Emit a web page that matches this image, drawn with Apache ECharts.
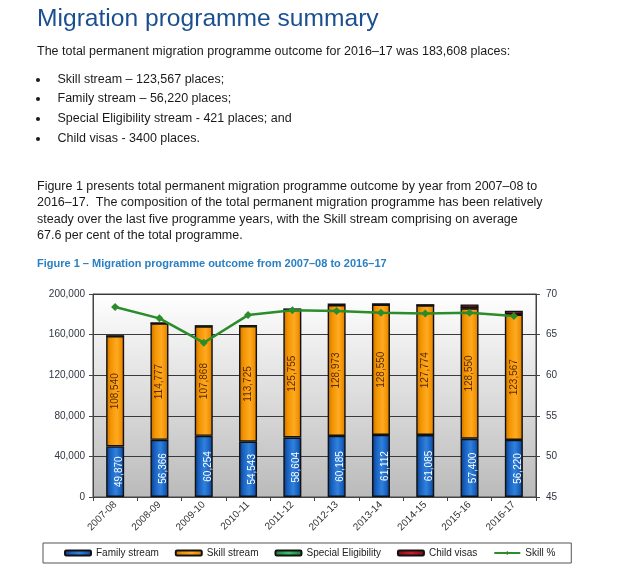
<!DOCTYPE html>
<html>
<head>
<meta charset="utf-8">
<script src="https://cdn.jsdelivr.net/npm/echarts@6/dist/echarts.min.js"></script>
<style>
  html, body { margin: 0; padding: 0; background: #ffffff; width: 620px; height: 575px; overflow: hidden; }
  body { position: relative; font-family: "Liberation Sans", Arial, sans-serif; color: #1a1a1a; }
  #chart { position: absolute; left: 0; top: 0; width: 620px; height: 575px; }
  .t { position: absolute; white-space: nowrap; z-index: 2; }
  .title { left: 37px; top: 4px; font-size: 24.6px; line-height: 28px; color: #1b4f91; }
  .p { left: 37px; font-size: 12.5px; line-height: 16px; }
  .b { left: 57.5px; font-size: 12.5px; line-height: 16px; }
  .dot { position: absolute; left: 36px; top: 7px; width: 4px; height: 4px; border-radius: 2px; background: #1a1a1a; }
  .dotwrap { position: absolute; left: 0; width: 60px; height: 16px; z-index: 2; }
  .cap { left: 37px; top: 257px; font-size: 11px; line-height: 13px; font-weight: bold; color: #2a80c2; }
</style>
</head>
<body>
<div id="chart"></div>
<div class="t title">Migration programme summary</div>
<div class="t p" style="top:42.7px">The total permanent migration programme outcome for 2016–17 was 183,608 places:</div>
<div class="dotwrap" style="top:71px"><div class="dot"></div></div>
<div class="t b" style="top:71px">Skill stream – 123,567 places;</div>
<div class="dotwrap" style="top:90.4px"><div class="dot"></div></div>
<div class="t b" style="top:90.4px">Family stream – 56,220 places;</div>
<div class="dotwrap" style="top:110.4px"><div class="dot"></div></div>
<div class="t b" style="top:110.4px">Special Eligibility stream - 421 places; and</div>
<div class="dotwrap" style="top:129.7px"><div class="dot"></div></div>
<div class="t b" style="top:129.7px">Child visas - 3400 places.</div>
<div class="t p" style="top:177.7px">Figure 1 presents total permanent migration programme outcome by year from 2007–08 to</div>
<div class="t p" style="top:194.4px">2016–17.&nbsp; The composition of the total permanent migration programme has been relatively</div>
<div class="t p" style="top:211px">steady over the last five programme years, with the Skill stream comprising on average</div>
<div class="t p" style="top:227px">67.6 per cent of the total programme.</div>
<div class="t cap">Figure 1 – Migration programme outcome from 2007–08 to 2016–17</div>
<script>
var categories = ['2007-08','2008-09','2009-10','2010-11','2011-12','2012-13','2013-14','2014-15','2015-16','2016-17'];
var familyStream = [49870, 56366, 60254, 54543, 58604, 60185, 61112, 61085, 57400, 56220];
var skillStream = [108540, 114777, 107868, 113725, 125755, 128973, 128550, 127774, 128550, 123567];
var specialEligibility = [220, 175, 501, 417, 639, 842, 338, 238, 308, 421];
var childVisas = [0, 0, 0, 0, 0, 0, 0, 0, 3512, 3400];
var skillPct = [68.4, 67.0, 64.0, 67.4, 68.0, 67.9, 67.7, 67.6, 67.7, 67.3];

function fmt(v) { return String(v).replace(/\B(?=(\d{3})+(?!\d))/g, ','); }
function hGrad(stops) {
  return new echarts.graphic.LinearGradient(0, 0, 1, 0, stops.map(function (s) { return { offset: s[0], color: s[1] }; }));
}
var FONT = '"Liberation Sans", Arial, sans-serif';
var chart = echarts.init(document.getElementById('chart'), null, { renderer: 'canvas' });
chart.setOption({
  animation: false,
  textStyle: { fontFamily: FONT },
  grid: {
    left: 93, right: 84, top: 294, bottom: 78,
    show: true,
    borderColor: '#444', borderWidth: 1,
    backgroundColor: new echarts.graphic.LinearGradient(0, 0, 0, 1, [
      { offset: 0, color: '#ffffff' }, { offset: 0.45, color: '#e0e0e0' }, { offset: 1, color: '#bababa' }
    ])
  },
  legend: {
    left: 43, top: 543,
    padding: [4, 16, 4, 21],
    itemGap: 16, itemWidth: 26, itemHeight: 5, itemTextGap: 2,
    borderColor: '#555', borderWidth: 1, backgroundColor: '#ffffff',
    textStyle: { fontSize: 10, color: '#222', lineHeight: 12, fontFamily: FONT },
    data: ['Family stream', 'Skill stream', 'Special Eligibility', 'Child visas', 'Skill %']
  },
  xAxis: {
    type: 'category', data: categories,
    axisLine: { lineStyle: { color: '#444' } },
    axisTick: { show: true, length: 4, lineStyle: { color: '#444' } },
    axisLabel: { rotate: 45, fontSize: 10, color: '#333', margin: 6, interval: 0 }
  },
  yAxis: [
    {
      type: 'value', min: 0, max: 200000, interval: 40000,
      axisLine: { show: true, lineStyle: { color: '#444' } },
      axisTick: { show: true, length: 4, lineStyle: { color: '#444' } },
      axisLabel: { fontSize: 10, color: '#2e3440', margin: 8, formatter: function (v) { return fmt(v); } },
      splitLine: { show: true, lineStyle: { color: '#3a3a3a', width: 1 } }
    },
    {
      type: 'value', min: 45, max: 70, interval: 5, position: 'right',
      axisLine: { show: true, lineStyle: { color: '#444' } },
      axisTick: { show: true, length: 4, lineStyle: { color: '#444' } },
      axisLabel: { fontSize: 10, color: '#2e3440', margin: 10 },
      splitLine: { show: false }
    }
  ],
  series: [
    {
      name: 'Family stream', type: 'bar', stack: 'total', barWidth: 18, data: familyStream,
      itemStyle: {
        color: hGrad([[0, '#0c3a80'], [0.25, '#1a62c2'], [0.55, '#2f82dc'], [0.8, '#1a62c2'], [1, '#0c3a80']]),
        borderColor: '#111', borderWidth: 1.4
      },
      label: { show: true, position: 'inside', rotate: 90, color: '#ffffff', fontSize: 10, offset: [0, 4],
        formatter: function (p) { return fmt(p.value); } }
    },
    {
      name: 'Skill stream', type: 'bar', stack: 'total', barWidth: 18, data: skillStream,
      itemStyle: {
        color: hGrad([[0, '#c86d00'], [0.25, '#f29400'], [0.6, '#ffaa22'], [0.85, '#f09000'], [1, '#c86d00']]),
        borderColor: '#111', borderWidth: 1.4
      },
      label: { show: true, position: 'inside', rotate: 90, color: '#5a2a00', fontSize: 10,
        formatter: function (p) { return fmt(p.value); } }
    },
    {
      name: 'Special Eligibility', type: 'bar', stack: 'total', barWidth: 18, data: specialEligibility,
      itemStyle: {
        color: hGrad([[0, '#1c7a3c'], [0.5, '#3fbf6a'], [1, '#1c7a3c']]),
        borderColor: '#111', borderWidth: 1.4
      }
    },
    {
      name: 'Child visas', type: 'bar', stack: 'total', barWidth: 18, data: childVisas,
      itemStyle: {
        color: hGrad([[0, '#7a0e0e'], [0.5, '#c8202a'], [1, '#7a0e0e']]),
        borderColor: '#111', borderWidth: 1.4
      }
    },
    {
      name: 'Skill %', type: 'line', yAxisIndex: 1, data: skillPct, z: 5,
      symbol: 'diamond', symbolSize: 8,
      lineStyle: { color: '#2a8c2a', width: 2.5 },
      itemStyle: { color: '#2a8c2a' }
    }
  ]
});
</script>
</body>
</html>
